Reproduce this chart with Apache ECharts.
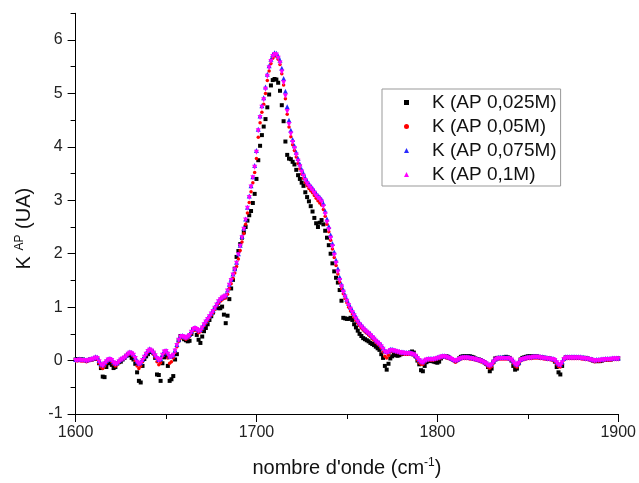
<!DOCTYPE html>
<html><head><meta charset="utf-8">
<script src="https://cdn.jsdelivr.net/npm/echarts@6/dist/echarts.min.js"></script>
<style>html,body{margin:0;padding:0;background:#fff}#c{width:639px;height:483px}</style>
</head><body><div id="c"></div>
<script>
const wavenumbers = [
1600,1601,1602,1603,1604,1605,1606,1607,1608,1609,
1610,1611,1612,1613,1614,1615,1616,1617,1618,1619,
1620,1621,1622,1623,1624,1625,1626,1627,1628,1629,
1630,1631,1632,1633,1634,1635,1636,1637,1638,1639,
1640,1641,1642,1643,1644,1645,1646,1647,1648,1649,
1650,1651,1652,1653,1654,1655,1656,1657,1658,1659,
1660,1661,1662,1663,1664,1665,1666,1667,1668,1669,
1670,1671,1672,1673,1674,1675,1676,1677,1678,1679,
1680,1681,1682,1683,1684,1685,1686,1687,1688,1689,
1690,1691,1692,1693,1694,1695,1696,1697,1698,1699,
1700,1701,1702,1703,1704,1705,1706,1707,1708,1709,
1710,1711,1712,1713,1714,1715,1716,1717,1718,1719,
1720,1721,1722,1723,1724,1725,1726,1727,1728,1729,
1730,1731,1732,1733,1734,1735,1736,1737,1738,1739,
1740,1741,1742,1743,1744,1745,1746,1747,1748,1749,
1750,1751,1752,1753,1754,1755,1756,1757,1758,1759,
1760,1761,1762,1763,1764,1765,1766,1767,1768,1769,
1770,1771,1772,1773,1774,1775,1776,1777,1778,1779,
1780,1781,1782,1783,1784,1785,1786,1787,1788,1789,
1790,1791,1792,1793,1794,1795,1796,1797,1798,1799,
1800,1801,1802,1803,1804,1805,1806,1807,1808,1809,
1810,1811,1812,1813,1814,1815,1816,1817,1818,1819,
1820,1821,1822,1823,1824,1825,1826,1827,1828,1829,
1830,1831,1832,1833,1834,1835,1836,1837,1838,1839,
1840,1841,1842,1843,1844,1845,1846,1847,1848,1849,
1850,1851,1852,1853,1854,1855,1856,1857,1858,1859,
1860,1861,1862,1863,1864,1865,1866,1867,1868,1869,
1870,1871,1872,1873,1874,1875,1876,1877,1878,1879,
1880,1881,1882,1883,1884,1885,1886,1887,1888,1889,
1890,1891,1892,1893,1894,1895,1896,1897,1898,1899,
1900];

// K (AP 0,025M) - black squares
const k025 = [
0.02,0.03,0.02,0.02,0.02,0.01,0.01,0.01,0.02,0.02,
0.03,0.04,0.03,-0.05,-0.14,-0.30,-0.31,-0.12,-0.05,-0.03,
-0.08,-0.14,-0.12,-0.05,-0.03,-0.02,0.02,0.05,0.09,0.12,
0.10,0.05,0.02,-0.06,-0.22,-0.38,-0.41,-0.10,0.03,0.08,
0.12,0.16,0.18,0.14,0.05,-0.26,-0.27,-0.38,-0.05,0.06,
0.08,-0.10,-0.38,-0.35,-0.29,0.02,0.12,0.38,0.46,0.45,
0.40,0.38,0.36,0.37,0.50,0.58,0.60,0.48,0.39,0.33,
0.45,0.55,0.61,0.68,0.76,0.83,0.90,0.98,1.00,0.98,
0.98,1.01,0.86,0.70,0.84,1.15,1.35,1.51,1.72,1.94,
2.05,2.18,2.30,2.40,2.50,2.62,2.72,2.80,2.95,3.12,
3.40,3.75,4.02,4.22,4.38,4.52,4.74,4.98,5.15,5.25,
5.27,5.26,5.20,5.05,4.78,4.48,4.10,3.85,3.78,3.77,
3.72,3.67,3.57,3.47,3.40,3.33,3.27,3.15,3.06,2.98,
2.89,2.79,2.67,2.57,2.50,2.58,2.63,2.55,2.43,2.30,
2.16,2.00,1.82,1.67,1.55,1.46,1.32,1.12,0.80,0.79,
0.78,0.78,0.80,0.76,0.68,0.62,0.56,0.50,0.46,0.42,
0.40,0.38,0.36,0.33,0.31,0.29,0.26,0.23,0.20,0.12,
0.05,-0.10,-0.17,-0.06,0.04,0.08,0.12,0.10,0.09,0.10,
0.12,0.13,0.13,0.13,0.14,0.15,0.17,0.15,0.08,0.00,
-0.07,-0.18,-0.20,-0.10,-0.03,0.00,-0.01,0.00,-0.02,-0.03,
-0.04,-0.02,0.04,0.07,0.08,0.08,0.07,0.05,0.03,0.01,
-0.01,0.01,0.04,0.07,0.08,0.08,0.08,0.08,0.08,0.07,
0.06,0.04,0.03,0.02,0.01,-0.01,-0.03,-0.06,-0.12,-0.20,
-0.15,-0.02,0.04,0.05,0.05,0.05,0.05,0.06,0.07,0.06,
0.05,0.00,-0.10,-0.17,-0.15,-0.05,0.02,0.05,0.06,0.07,
0.08,0.08,0.08,0.08,0.08,0.08,0.07,0.06,0.06,0.05,
0.05,0.04,0.04,0.03,0.02,-0.02,-0.12,-0.22,-0.26,-0.10,
0.03,0.06,0.06,0.06,0.06,0.06,0.06,0.06,0.05,0.05,
0.05,0.05,0.05,0.04,0.03,0.02,0.00,-0.01,-0.01,-0.01,
-0.01,0.00,0.01,0.02,0.02,0.02,0.02,0.03,0.03,0.03,
0.04];

// K (AP 0,05M) - red circles
const k05 = [
0.00,-0.01,0.00,-0.01,-0.01,-0.01,-0.02,-0.01,0.00,0.01,
0.02,0.04,0.02,-0.05,-0.12,-0.15,-0.10,-0.04,0.00,0.01,
-0.02,-0.07,-0.10,-0.08,-0.03,0.00,0.02,0.04,0.07,0.11,
0.13,0.12,0.08,0.00,-0.10,-0.15,-0.10,-0.02,0.05,0.11,
0.16,0.19,0.17,0.12,0.06,-0.02,-0.08,-0.04,0.08,0.14,
0.15,0.05,-0.05,-0.02,0.05,0.15,0.26,0.36,0.42,0.44,
0.42,0.40,0.42,0.45,0.51,0.56,0.58,0.56,0.52,0.54,
0.59,0.65,0.70,0.75,0.80,0.85,0.90,0.96,1.02,1.07,
1.11,1.14,1.16,1.17,1.24,1.35,1.44,1.54,1.64,1.76,
1.90,2.06,2.22,2.38,2.55,2.76,2.96,3.16,3.33,3.52,
3.78,4.18,4.45,4.65,4.80,5.00,5.24,5.42,5.56,5.66,
5.70,5.70,5.64,5.54,5.37,5.16,4.90,4.61,4.37,4.19,
4.04,3.93,3.81,3.69,3.59,3.49,3.41,3.33,3.27,3.22,
3.18,3.14,3.09,3.04,2.99,2.95,2.91,2.83,2.70,2.55,
2.41,2.25,2.09,1.93,1.78,1.62,1.47,1.35,1.25,1.16,
1.08,1.00,0.93,0.87,0.81,0.75,0.70,0.65,0.61,0.57,
0.54,0.51,0.48,0.45,0.41,0.38,0.34,0.31,0.28,0.23,
0.16,0.08,0.05,0.10,0.16,0.18,0.17,0.16,0.15,0.14,
0.13,0.13,0.12,0.12,0.12,0.12,0.11,0.10,0.06,0.01,
-0.04,-0.07,-0.07,-0.03,0.00,0.01,0.01,0.01,0.01,0.02,
0.03,0.04,0.05,0.06,0.06,0.05,0.04,0.03,0.01,-0.01,
-0.03,-0.01,0.01,0.03,0.04,0.04,0.04,0.04,0.03,0.03,
0.02,0.01,0.00,-0.01,-0.02,-0.03,-0.05,-0.08,-0.12,-0.14,
-0.11,-0.05,0.00,0.02,0.03,0.03,0.03,0.03,0.03,0.03,
0.02,0.00,-0.05,-0.10,-0.12,-0.07,-0.01,0.01,0.02,0.03,
0.04,0.04,0.04,0.05,0.05,0.05,0.05,0.04,0.04,0.03,
0.03,0.02,0.02,0.01,0.01,-0.02,-0.07,-0.11,-0.12,-0.06,
0.01,0.04,0.04,0.04,0.04,0.04,0.04,0.04,0.04,0.04,
0.03,0.03,0.02,0.02,0.01,0.00,-0.01,-0.02,-0.01,-0.01,
-0.01,0.00,0.00,0.01,0.01,0.01,0.01,0.02,0.02,0.02,
0.02];

// K (AP 0,075M) - blue triangles
const k075 = [
0.02,0.02,0.03,0.02,0.02,0.02,0.01,0.02,0.03,0.04,
0.05,0.07,0.06,0.00,-0.06,-0.08,-0.04,0.00,0.03,0.04,
0.02,-0.02,-0.05,-0.04,0.00,0.03,0.05,0.07,0.10,0.14,
0.16,0.15,0.12,0.06,-0.01,-0.05,-0.03,0.02,0.08,0.14,
0.19,0.22,0.20,0.16,0.11,0.06,0.02,0.04,0.12,0.18,
0.19,0.14,0.08,0.09,0.12,0.20,0.30,0.40,0.46,0.47,
0.45,0.44,0.46,0.49,0.55,0.60,0.62,0.60,0.57,0.58,
0.63,0.69,0.74,0.79,0.84,0.89,0.94,1.00,1.06,1.12,
1.16,1.19,1.21,1.23,1.32,1.43,1.52,1.62,1.72,1.84,
2.00,2.16,2.32,2.48,2.65,2.87,3.08,3.27,3.44,3.65,
3.93,4.33,4.58,4.77,4.92,5.12,5.36,5.52,5.64,5.73,
5.76,5.75,5.70,5.62,5.47,5.28,5.04,4.75,4.50,4.31,
4.14,4.02,3.90,3.78,3.68,3.58,3.50,3.42,3.36,3.31,
3.27,3.23,3.18,3.13,3.09,3.06,3.02,2.94,2.80,2.65,
2.51,2.35,2.19,2.03,1.88,1.72,1.56,1.43,1.33,1.23,
1.15,1.07,1.00,0.94,0.88,0.82,0.76,0.71,0.67,0.63,
0.59,0.56,0.53,0.50,0.46,0.43,0.39,0.36,0.33,0.29,
0.24,0.19,0.17,0.18,0.21,0.21,0.20,0.19,0.18,0.17,
0.16,0.16,0.15,0.15,0.15,0.15,0.14,0.13,0.10,0.06,
0.02,-0.01,-0.02,0.01,0.03,0.04,0.04,0.04,0.04,0.05,
0.06,0.07,0.08,0.09,0.09,0.08,0.07,0.06,0.04,0.02,
0.01,0.02,0.04,0.06,0.07,0.07,0.07,0.07,0.06,0.06,
0.05,0.04,0.03,0.02,0.01,0.00,-0.02,-0.04,-0.07,-0.08,
-0.06,-0.01,0.03,0.05,0.06,0.06,0.06,0.06,0.06,0.06,
0.05,0.03,-0.01,-0.05,-0.07,-0.03,0.02,0.04,0.05,0.06,
0.07,0.07,0.07,0.08,0.08,0.08,0.08,0.07,0.07,0.06,
0.06,0.05,0.05,0.04,0.04,0.02,-0.02,-0.06,-0.07,-0.02,
0.04,0.07,0.07,0.07,0.07,0.07,0.07,0.07,0.07,0.07,
0.06,0.06,0.05,0.05,0.04,0.03,0.02,0.01,0.02,0.02,
0.02,0.03,0.03,0.04,0.04,0.04,0.04,0.05,0.05,0.05,
0.05];

// K (AP 0,1M) - magenta inverted triangles
const k1 = [
0.00,0.00,0.01,0.00,0.00,0.00,-0.01,0.00,0.01,0.02,
0.03,0.05,0.04,-0.02,-0.08,-0.10,-0.06,-0.02,0.01,0.02,
0.00,-0.04,-0.07,-0.06,-0.02,0.01,0.03,0.05,0.08,0.12,
0.14,0.13,0.10,0.04,-0.03,-0.07,-0.05,0.00,0.06,0.12,
0.17,0.20,0.18,0.14,0.09,0.04,0.00,0.02,0.10,0.16,
0.17,0.12,0.06,0.07,0.10,0.18,0.28,0.38,0.44,0.45,
0.43,0.42,0.44,0.47,0.53,0.58,0.60,0.58,0.55,0.56,
0.61,0.67,0.72,0.77,0.82,0.87,0.92,0.98,1.04,1.10,
1.14,1.17,1.19,1.21,1.30,1.41,1.50,1.60,1.70,1.82,
1.98,2.14,2.30,2.46,2.63,2.85,3.05,3.25,3.42,3.62,
3.90,4.30,4.55,4.74,4.88,5.08,5.32,5.48,5.60,5.69,
5.73,5.72,5.66,5.57,5.40,5.20,4.95,4.66,4.42,4.24,
4.08,3.97,3.85,3.73,3.63,3.53,3.45,3.37,3.31,3.26,
3.22,3.18,3.13,3.08,3.04,3.01,2.97,2.88,2.74,2.59,
2.45,2.29,2.13,1.97,1.82,1.66,1.50,1.38,1.28,1.19,
1.11,1.03,0.96,0.90,0.84,0.78,0.72,0.67,0.63,0.59,
0.56,0.53,0.50,0.47,0.43,0.40,0.36,0.33,0.30,0.26,
0.21,0.16,0.14,0.16,0.19,0.19,0.18,0.17,0.16,0.15,
0.14,0.14,0.13,0.13,0.13,0.13,0.12,0.11,0.08,0.04,
0.00,-0.03,-0.04,-0.01,0.01,0.02,0.02,0.02,0.02,0.03,
0.04,0.05,0.06,0.07,0.07,0.06,0.05,0.04,0.02,0.00,
-0.01,0.00,0.02,0.04,0.05,0.05,0.05,0.05,0.04,0.04,
0.03,0.02,0.01,0.00,-0.01,-0.02,-0.04,-0.06,-0.09,-0.10,
-0.08,-0.03,0.01,0.03,0.04,0.04,0.04,0.04,0.04,0.04,
0.03,0.01,-0.03,-0.07,-0.09,-0.05,0.00,0.02,0.03,0.04,
0.05,0.05,0.05,0.06,0.06,0.06,0.06,0.05,0.05,0.04,
0.04,0.03,0.03,0.02,0.02,0.00,-0.04,-0.08,-0.09,-0.04,
0.02,0.05,0.05,0.05,0.05,0.05,0.05,0.05,0.05,0.05,
0.04,0.04,0.03,0.03,0.02,0.01,0.00,-0.01,0.00,0.00,
0.00,0.01,0.01,0.02,0.02,0.02,0.02,0.03,0.03,0.03,
0.03];

const seriesNames = ['K (AP 0,025M)', 'K (AP 0,05M)', 'K (AP 0,075M)', 'K (AP 0,1M)'];
const yMajorTicks = [-1, 0, 1, 2, 3, 4, 5, 6];
const yMinorTicks = [-0.5, 0.5, 1.5, 2.5, 3.5, 4.5, 5.5, 6.5];

const FONT = '"Liberation Sans", Arial, sans-serif';
const chart = echarts.init(document.getElementById('c'), null, {renderer: 'canvas'});

function pts(ys) { return wavenumbers.map((w, i) => [w, ys[i]]); }

const styles = [
  {color: '#000000', symbol: 'rect', size: 4, rot: 0},
  {color: '#ff0000', symbol: 'circle', size: 3.5, rot: 0},
  {color: '#2a2aff', symbol: 'triangle', size: 5, rot: 0},
  {color: '#ff00ff', symbol: 'triangle', size: 5, rot: 180}
];
const allData = [k025, k05, k075, k1];

const axisLineStyle = {color: '#000', width: 1};

chart.setOption({
  animation: false,
  backgroundColor: '#fff',
  grid: {left: 75.6, right: 20.7, top: 13.3, bottom: 66.3},
  xAxis: {
    type: 'value', min: 1600, max: 1900, interval: 100,
    name: '{a|nombre d\'onde (cm}{s|-1}{a|)}',
    nameLocation: 'middle', nameGap: 43,
    nameTextStyle: {
      fontFamily: FONT, fontSize: 20, color: '#111',
      rich: {
        a: {fontFamily: FONT, fontSize: 20, color: '#111', lineHeight: 22},
        s: {fontFamily: FONT, fontSize: 12, color: '#111', verticalAlign: 'top', lineHeight: 22}
      }
    },
    axisLine: {onZero: false, lineStyle: axisLineStyle},
    axisTick: {length: 8, lineStyle: axisLineStyle},
    minorTick: {show: true, splitNumber: 2, length: 5, lineStyle: axisLineStyle},
    axisLabel: {fontFamily: FONT, fontSize: 16, color: '#222', margin: 11, formatter: v => String(v)},
    splitLine: {show: false}
  },
  yAxis: [{
    type: 'value', min: -1, max: 6.5,
    name: '{a|K }{s|AP}{a| (UA)}',
    nameLocation: 'middle', nameGap: 40, nameRotate: 90,
    nameTextStyle: {
      fontFamily: FONT, fontSize: 20, color: '#111',
      padding: [0, 30, 0, 0],
      rich: {
        a: {fontFamily: FONT, fontSize: 20, color: '#111', lineHeight: 22},
        s: {fontFamily: FONT, fontSize: 12, color: '#111', verticalAlign: 'top', lineHeight: 22}
      }
    },
    axisLine: {onZero: false, lineStyle: axisLineStyle},
    axisTick: {length: 8, lineStyle: axisLineStyle, customValues: yMajorTicks},
    axisLabel: {fontFamily: FONT, fontSize: 16, color: '#222', margin: 13, customValues: yMajorTicks, formatter: v => String(v)},
    splitLine: {show: false}
  }, {
    type: 'value', min: -1, max: 6.5, position: 'left',
    axisLine: {show: false},
    axisTick: {show: true, length: 5, lineStyle: axisLineStyle, customValues: yMinorTicks},
    axisLabel: {show: false},
    splitLine: {show: false}
  }],
  legend: {
    orient: 'vertical', left: 382, top: 89,
    padding: [4, 4, 2, 22],
    itemWidth: 5, itemHeight: 5, itemGap: 5,
    borderColor: '#999', borderWidth: 1, backgroundColor: '#fff',
    textStyle: {fontFamily: FONT, fontSize: 19, color: '#111', lineHeight: 18, padding: [0, 0, 0, 18]},
    data: seriesNames
  },
  series: allData.map((d, i) => ({
    type: 'scatter', name: seriesNames[i], data: pts(d),
    symbol: styles[i].symbol, symbolSize: styles[i].size, symbolRotate: styles[i].rot,
    itemStyle: {color: styles[i].color, opacity: 1},
    emphasis: {disabled: true}
  }))
});
</script></body></html>
